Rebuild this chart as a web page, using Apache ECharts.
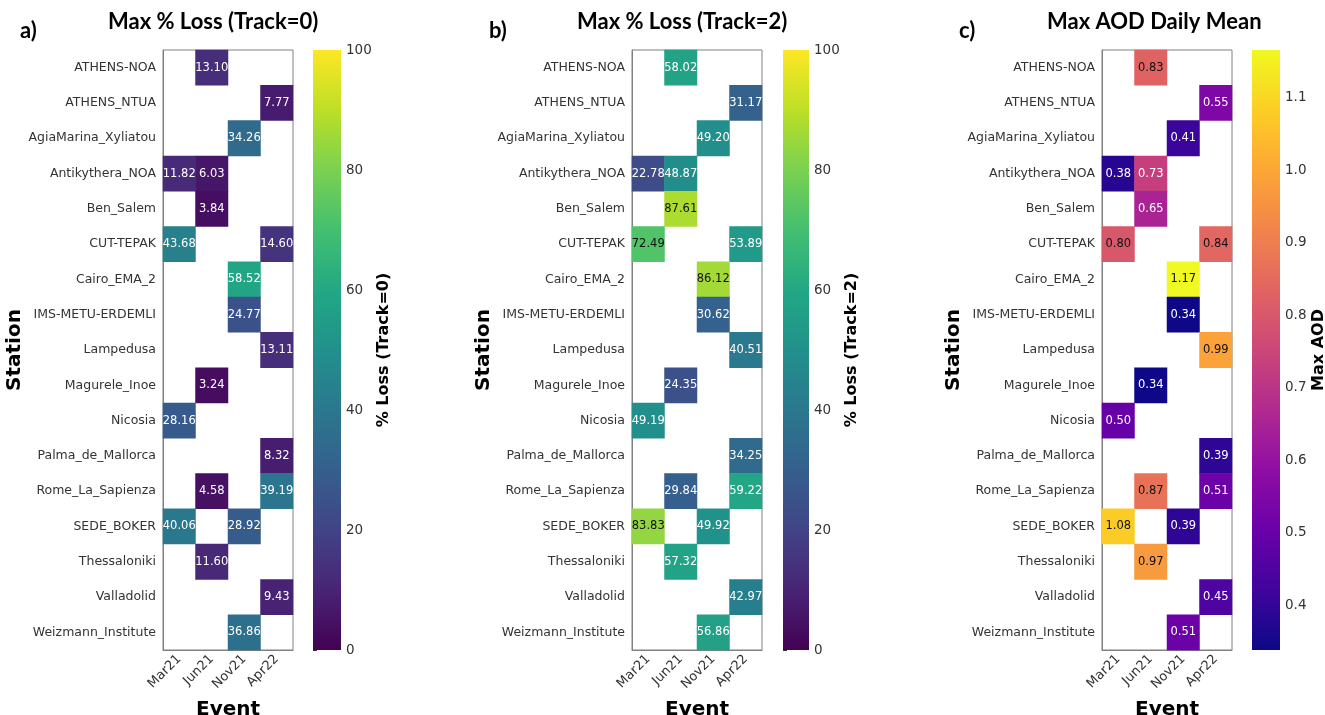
<!DOCTYPE html>
<html>
<head>
<meta charset="utf-8">
<script src="https://cdn.jsdelivr.net/npm/echarts@6/dist/echarts.min.js"></script>
<style>
  html, body { margin: 0; padding: 0; background: #fff; }
  #main { width: 1325px; height: 715px; }
</style>
</head>
<body>
<div id="main"></div>
<script>
var stations = ['ATHENS-NOA', 'ATHENS_NTUA', 'AgiaMarina_Xyliatou', 'Antikythera_NOA', 'Ben_Salem',
  'CUT-TEPAK', 'Cairo_EMA_2', 'IMS-METU-ERDEMLI', 'Lampedusa', 'Magurele_Inoe', 'Nicosia',
  'Palma_de_Mallorca', 'Rome_La_Sapienza', 'SEDE_BOKER', 'Thessaloniki', 'Valladolid', 'Weizmann_Institute'];
var events = ['Mar21', 'Jun21', 'Nov21', 'Apr22'];

// one row per station, columns = events (null = no data)
var lossTrack0 = [
  [null, 13.10, null, null],
  [null, null, null, 7.77],
  [null, null, 34.26, null],
  [11.82, 6.03, null, null],
  [null, 3.84, null, null],
  [43.68, null, null, 14.60],
  [null, null, 58.52, null],
  [null, null, 24.77, null],
  [null, null, null, 13.11],
  [null, 3.24, null, null],
  [28.16, null, null, null],
  [null, null, null, 8.32],
  [null, 4.58, null, 39.19],
  [40.06, null, 28.92, null],
  [null, 11.60, null, null],
  [null, null, null, 9.43],
  [null, null, 36.86, null]
];
var lossTrack2 = [
  [null, 58.02, null, null],
  [null, null, null, 31.17],
  [null, null, 49.20, null],
  [22.78, 48.87, null, null],
  [null, 87.61, null, null],
  [72.49, null, null, 53.89],
  [null, null, 86.12, null],
  [null, null, 30.62, null],
  [null, null, null, 40.51],
  [null, 24.35, null, null],
  [49.19, null, null, null],
  [null, null, null, 34.25],
  [null, 29.84, null, 59.22],
  [83.83, null, 49.92, null],
  [null, 57.32, null, null],
  [null, null, null, 42.97],
  [null, null, 56.86, null]
];
var maxAod = [
  [null, 0.83, null, null],
  [null, null, null, 0.55],
  [null, null, 0.41, null],
  [0.38, 0.73, null, null],
  [null, 0.65, null, null],
  [0.80, null, null, 0.84],
  [null, null, 1.17, null],
  [null, null, 0.34, null],
  [null, null, null, 0.99],
  [null, 0.34, null, null],
  [0.50, null, null, null],
  [null, null, null, 0.39],
  [null, 0.87, null, 0.51],
  [1.08, null, 0.39, null],
  [null, 0.97, null, null],
  [null, null, null, 0.45],
  [null, null, 0.51, null]
];
var lossTicks = [0, 20, 40, 60, 80, 100];
var aodTicks = [0.4, 0.5, 0.6, 0.7, 0.8, 0.9, 1.0, 1.1];

var viridis = ['#440154', '#482475', '#414487', '#355f8d', '#2a788e', '#21918c',
  '#22a884', '#44bf70', '#7ad151', '#bddf26', '#fde725'];
var plasma = ['#0d0887', '#41049d', '#6a00a8', '#8f0da4', '#b12a90', '#cc4778',
  '#e16462', '#f2844b', '#fca636', '#fcce25', '#f0f921'];

function flat(rows) {
  var out = [];
  rows.forEach(function (r) { r.forEach(function (v) { if (v != null) out.push(v); }); });
  return out;
}
var aodVals = flat(maxAod);
var aodMin = Math.min.apply(null, aodVals) - 0.002;
var aodMax = Math.max.apply(null, aodVals) - 0.004;

function cells(rows, min, max, cut) {
  var out = [];
  rows.forEach(function (r, yi) {
    r.forEach(function (v, xi) {
      if (v == null) return;
      var t = (v - min) / (max - min);
      out.push({ value: [xi, yi, v], label: { color: t > cut ? '#111' : '#fff' } });
    });
  });
  return out;
}

var font = 'DejaVu Sans';
var panels = [
  { left: 163, cbLeft: 313, cbW: 28, data: lossTrack0, min: 0, max: 100, colors: viridis, cut: 0.65,
    title: 'Max % Loss (Track=0)', tag: 'a)', cbName: '% Loss (Track=0)', ticks: lossTicks, dec: 0 },
  { left: 632, cbLeft: 783, cbW: 26, data: lossTrack2, min: 0, max: 100, colors: viridis, cut: 0.65,
    title: 'Max % Loss (Track=2)', tag: 'b)', cbName: '% Loss (Track=2)', ticks: lossTicks, dec: 0 },
  { left: 1102, cbLeft: 1252, cbW: 28, data: maxAod, min: aodMin, max: aodMax, colors: plasma, cut: 0.5,
    title: 'Max AOD Daily Mean', tag: 'c)', cbName: 'Max AOD', ticks: aodTicks, dec: 1 }
];

var grid = [], xAxis = [], yAxis = [], series = [], visualMap = [], graphic = [];
panels.forEach(function (p, i) {
  var g = grid.length;
  grid.push({ left: p.left, top: 50, width: 130, height: 600, show: true, outerBoundsMode: 'none',
    borderColor: '#808080', borderWidth: 1, backgroundColor: 'transparent' });
  xAxis.push({ type: 'category', gridIndex: g, data: events,
    name: 'Event', nameLocation: 'middle', nameGap: 50,
    nameTextStyle: { fontFamily: font, fontWeight: 'bold', fontSize: 20, color: '#000' },
    axisLine: { show: true, lineStyle: { color: '#808080' } }, splitLine: { show: false },
    axisTick: { alignWithLabel: true, length: 4, lineStyle: { color: '#333' } },
    axisLabel: { rotate: 45, fontFamily: font, fontSize: 13, color: '#333', margin: 7 } });
  yAxis.push({ type: 'category', gridIndex: g, data: stations, inverse: true,
    name: 'Station', nameLocation: 'middle', nameGap: 136, nameRotate: 90,
    nameTextStyle: { fontFamily: font, fontWeight: 'bold', fontSize: 20, color: '#000' },
    axisLine: { show: true, lineStyle: { color: '#808080' } }, splitLine: { show: false },
    axisTick: { alignWithLabel: true, length: 4, lineStyle: { color: '#333' } },
    axisLabel: { fontFamily: font, fontSize: 12.5, color: '#333', margin: 7 } });
  series.push({ type: 'heatmap', xAxisIndex: g, yAxisIndex: g,
    data: cells(p.data, p.min, p.max, p.cut),
    label: { show: true, fontFamily: font, fontSize: 11.5,
      formatter: function (d) { return d.value[2].toFixed(2); } },
    emphasis: { disabled: true } });
  visualMap.push({ show: false, type: 'continuous', seriesIndex: series.length - 1, dimension: 2,
    min: p.min, max: p.max, inRange: { color: p.colors } });

  // colorbar
  var c = grid.length;
  grid.push({ left: p.cbLeft, top: 50, width: p.cbW, height: 600, outerBoundsMode: 'none' });
  xAxis.push({ type: 'value', gridIndex: c, min: 0, max: 1, show: false });
  yAxis.push({ type: 'value', gridIndex: c, min: p.min, max: p.max, position: 'right',
    name: p.cbName, nameLocation: 'middle', nameGap: p.dec ? 30 : 32, nameRotate: 90,
    nameTextStyle: { fontFamily: font, fontWeight: 'bold', fontSize: 16, color: '#000' },
    axisLine: { show: false }, splitLine: { show: false },
    axisTick: { show: true, length: 4, lineStyle: { color: '#333' }, customValues: p.ticks },
    axisLabel: { fontFamily: font, fontSize: 13.5, color: '#333', margin: 5, customValues: p.ticks,
      formatter: (function (dec) { return function (v) { return v.toFixed(dec); }; })(p.dec) } });
  var stops = p.colors.map(function (col, k) { return { offset: k / (p.colors.length - 1), color: col }; });
  series.push({ type: 'custom', xAxisIndex: c, yAxisIndex: c, silent: true,
    data: [[0, p.min, 1, p.max]],
    renderItem: function (params, api) {
      var a = api.coord([api.value(0), api.value(1)]);
      var b = api.coord([api.value(2), api.value(3)]);
      return { type: 'rect',
        shape: { x: a[0], y: b[1], width: b[0] - a[0], height: a[1] - b[1] },
        style: { fill: new echarts.graphic.LinearGradient(0, 1, 0, 0, stops) } };
    } });

  graphic.push({ type: 'text', left: p.left + 65 - 120, top: 11,
    style: { text: p.title, width: 240, align: 'center', font: 'bold 22px Lato', fill: '#000' } });
  graphic.push({ type: 'text', left: p.left - 143, top: 20,
    style: { text: p.tag, font: 'bold 22px Lato', fill: '#000' } });
});

var chart = echarts.init(document.getElementById('main'));
chart.setOption({
  animation: false,
  grid: grid, xAxis: xAxis, yAxis: yAxis, visualMap: visualMap, series: series, graphic: graphic
});
</script>
</body>
</html>
